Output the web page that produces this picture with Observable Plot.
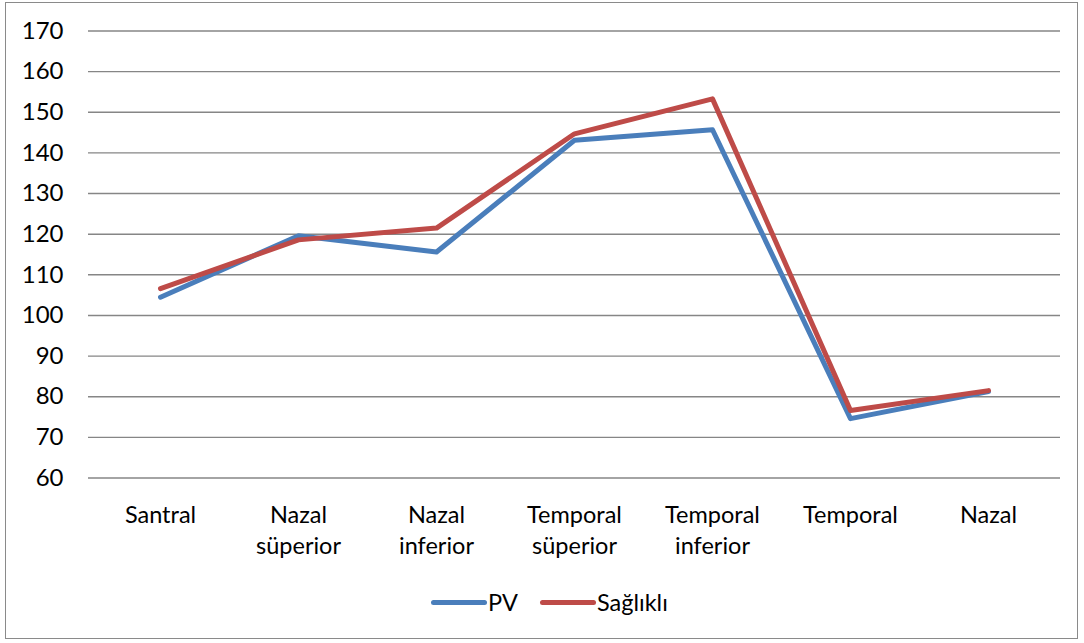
<!DOCTYPE html>
<html>
<head>
<meta charset="utf-8">
<script src="https://cdn.jsdelivr.net/npm/d3@7"></script>
<script src="https://cdn.jsdelivr.net/npm/@observablehq/plot@0.6"></script>
<style>
  body { margin: 0; background: #fff; }
  #wrap { position: relative; width: 1084px; height: 643px; font-family: Lato, "Open Sans", sans-serif; }
  #frame { position: absolute; left: 5px; top: 2px; width: 1073px; height: 637px; border: 1.5px solid #8a8a8a; box-sizing: border-box; }
  #chart { position: absolute; left: 0; top: 0; }
  #legend { position: absolute; top: 588px; left: 0; width: 1084px; height: 30px; font-size: 23.5px; color: #000; }
  .sw { position: absolute; top: 12px; height: 5px; border-radius: 3px; }
  .lb { position: absolute; top: 0; line-height: 28px; }
</style>
</head>
<body>
<div id="wrap">
  <div id="frame"></div>
  <div id="chart"></div>
  <div id="legend"></div>
</div>
<script>
const categories = ["Santral", "Nazal\nsüperior", "Nazal\ninferior", "Temporal\nsüperior", "Temporal\ninferior", "Temporal", "Nazal"];
const seriesNames = ["PV", "Sağlıklı"];
const pvValues = [104.5, 119.6, 115.6, 143.1, 145.7, 74.6, 81.3];
const saglikliValues = [106.6, 118.6, 121.5, 144.7, 153.3, 76.6, 81.5];
const colors = ["#4a7ebb", "#be4b48"];
const yTicks = [60, 70, 80, 90, 100, 110, 120, 130, 140, 150, 160, 170];

const data = [];
[pvValues, saglikliValues].forEach((vals, s) => {
  vals.forEach((v, i) => data.push({cat: categories[i], value: v, series: seriesNames[s]}));
});

const plot = Plot.plot({
  width: 1084,
  height: 570,
  marginLeft: 88,
  marginRight: 24,
  marginTop: 30.5,
  marginBottom: 92.5,
  style: {fontFamily: "Lato, 'Open Sans', sans-serif", fontSize: "24px", color: "#000", background: "transparent"},
  x: {type: "point", domain: categories, padding: 0.5},
  y: {domain: [60, 170]},
  color: {domain: seriesNames, range: colors},
  marks: [
    Plot.gridY(yTicks, {stroke: "#868686", strokeOpacity: 1, strokeWidth: 1.4}),
    Plot.axisY(yTicks, {tickSize: 0, tickPadding: 25, fontSize: 24, label: null}),
    Plot.axisX({tickSize: 0, tickPadding: 22, fontSize: 23.5, lineHeight: 1.35, label: null}),
    Plot.line(data, {x: "cat", y: "value", z: "series", stroke: "series", strokeWidth: 5, strokeLinejoin: "round", strokeLinecap: "round"})
  ]
});
document.getElementById("chart").appendChild(plot);

const legend = document.getElementById("legend");
const legendItems = [
  {name: seriesNames[0], color: colors[0], sx: 431, sw: 56, tx: 488},
  {name: seriesNames[1], color: colors[1], sx: 540, sw: 56, tx: 597}
];
legendItems.forEach(it => {
  const sw = document.createElement("div");
  sw.className = "sw";
  sw.style.left = it.sx + "px";
  sw.style.width = it.sw + "px";
  sw.style.background = it.color;
  legend.appendChild(sw);
  const lb = document.createElement("div");
  lb.className = "lb";
  lb.style.left = it.tx + "px";
  lb.textContent = it.name;
  legend.appendChild(lb);
});
</script>
</body>
</html>
